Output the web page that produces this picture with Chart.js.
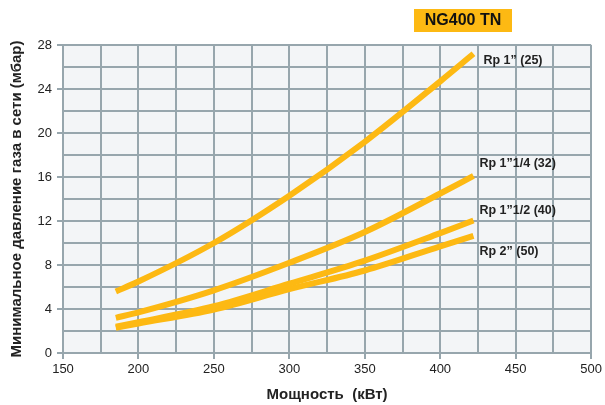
<!DOCTYPE html>
<html>
<head>
<meta charset="utf-8">
<script src="https://cdn.jsdelivr.net/npm/chart.js@4/dist/chart.umd.min.js"></script>
<style>
  html, body { margin: 0; padding: 0; background: #ffffff; }
  #wrap { width: 605px; height: 405px; position: relative; }
</style>
</head>
<body>
<div id="wrap"><canvas id="c" width="605" height="405"></canvas></div>
<script>
// ---- data ----
const powerKW = [185, 200, 250, 300, 350, 400, 422];
const rp1_25   = [5.6, 6.5, 10.0, 14.3, 19.2, 24.7, 27.2];
const rp114_32 = [3.2, 3.7, 5.7, 8.2, 11.0, 14.5, 16.1];
const rp112_40 = [2.4, 2.8, 4.25, 6.3, 8.4, 10.9, 12.05];
const rp2_50   = [2.3, 2.68, 3.95, 5.8, 7.5, 9.7, 10.65];
const seriesNames = ['Rp 1\u201D (25)', 'Rp 1\u201D1/4 (32)', 'Rp 1\u201D1/2 (40)', 'Rp 2\u201D (50)'];
const xTickLabels = [150, 200, 250, 300, 350, 400, 450, 500];
const yTickLabels = [0, 4, 8, 12, 16, 20, 24, 28];
const chartTitle = 'NG400 TN';
const xTitle = 'Мощность  (кВт)';
const yTitle = 'Минимальное давление газа в сети (мбар)';

const allSeries = [rp1_25, rp114_32, rp112_40, rp2_50];
const LINE = '#fdb913';
const GRID = '#97a6ad';
const FONT = '"Liberation Sans", Arial, Helvetica, sans-serif';

const datasets = allSeries.map((vals, i) => ({
  label: seriesNames[i],
  data: powerKW.map((x, j) => ({ x: x, y: vals[j] })),
  borderColor: LINE,
  backgroundColor: LINE,
  borderWidth: 6,
  borderCapStyle: 'butt',
  pointRadius: 0,
  cubicInterpolationMode: 'monotone',
  fill: false
}));

// label pixel offsets relative to each line's end
const labelOffsets = [[10, 7], [6, -12], [6, -10], [6, 16]];

const bgPlugin = {
  id: 'bg',
  beforeDraw(chart) {
    const { ctx, chartArea: a } = chart;
    ctx.save();
    ctx.fillStyle = '#f3f5f7';
    ctx.fillRect(a.left, a.top, a.right - a.left, a.bottom - a.top);
    ctx.restore();
  }
};

const annoPlugin = {
  id: 'anno',
  afterDraw(chart) {
    const { ctx } = chart;
    const xs = chart.scales.x, ys = chart.scales.y;
    ctx.save();
    ctx.font = 'bold 12.5px ' + FONT;
    ctx.fillStyle = '#222222';
    ctx.textAlign = 'left';
    ctx.textBaseline = 'middle';
    allSeries.forEach((vals, i) => {
      const n = vals.length - 1;
      const px = xs.getPixelForValue(powerKW[n]) + labelOffsets[i][0];
      const py = ys.getPixelForValue(vals[n]) + labelOffsets[i][1];
      ctx.fillText(seriesNames[i], px, py);
    });
    // title box
    ctx.fillStyle = LINE;
    ctx.fillRect(414, 9, 98, 23);
    ctx.fillStyle = '#111111';
    ctx.font = 'bold 16px ' + FONT;
    ctx.textAlign = 'center';
    ctx.fillText(chartTitle, 463, 21);
    ctx.restore();
  }
};

new Chart(document.getElementById('c'), {
  type: 'line',
  data: { datasets: datasets },
  options: {
    responsive: false,
    animation: false,
    devicePixelRatio: 1,
    layout: { padding: { top: 45, right: 13, left: 0, bottom: 0 } },
    plugins: { legend: { display: false }, tooltip: { enabled: false } },
    scales: {
      x: {
        type: 'linear',
        min: 150, max: 500,
        afterFit(s) { s.height = 52; },
        ticks: {
          stepSize: 25,
          autoSkip: false,
          maxRotation: 0,
          padding: 3,
          color: '#222222',
          font: { family: FONT, size: 13 },
          callback: v => xTickLabels.includes(v) ? String(v) : ''
        },
        grid: {
          color: GRID,
          lineWidth: 2,
          tickLength: 6,
          tickColor: ctx => (ctx.tick && xTickLabels.includes(ctx.tick.value)) ? GRID : 'rgba(0,0,0,0)'
        },
        border: { color: GRID, width: 2 },
        title: {
          display: true,
          text: xTitle,
          color: '#222222',
          font: { family: FONT, size: 15, weight: 'bold' },
          padding: { top: 0, bottom: 1 }
        }
      },
      y: {
        type: 'linear',
        min: 0, max: 28,
        afterFit(s) { s.width = 63; },
        ticks: {
          stepSize: 2,
          autoSkip: false,
          padding: 5,
          color: '#222222',
          font: { family: FONT, size: 13 },
          callback: v => yTickLabels.includes(v) ? String(v) : ''
        },
        grid: {
          color: GRID,
          lineWidth: 2,
          tickLength: 6,
          tickColor: ctx => (ctx.tick && yTickLabels.includes(ctx.tick.value)) ? GRID : 'rgba(0,0,0,0)'
        },
        border: { color: GRID, width: 2 },
        title: {
          display: true,
          text: yTitle,
          color: '#222222',
          font: { family: FONT, size: 15, weight: 'bold' },
          padding: { top: 8, bottom: 0 }
        }
      }
    }
  },
  plugins: [bgPlugin, annoPlugin]
});
</script>
</body>
</html>
